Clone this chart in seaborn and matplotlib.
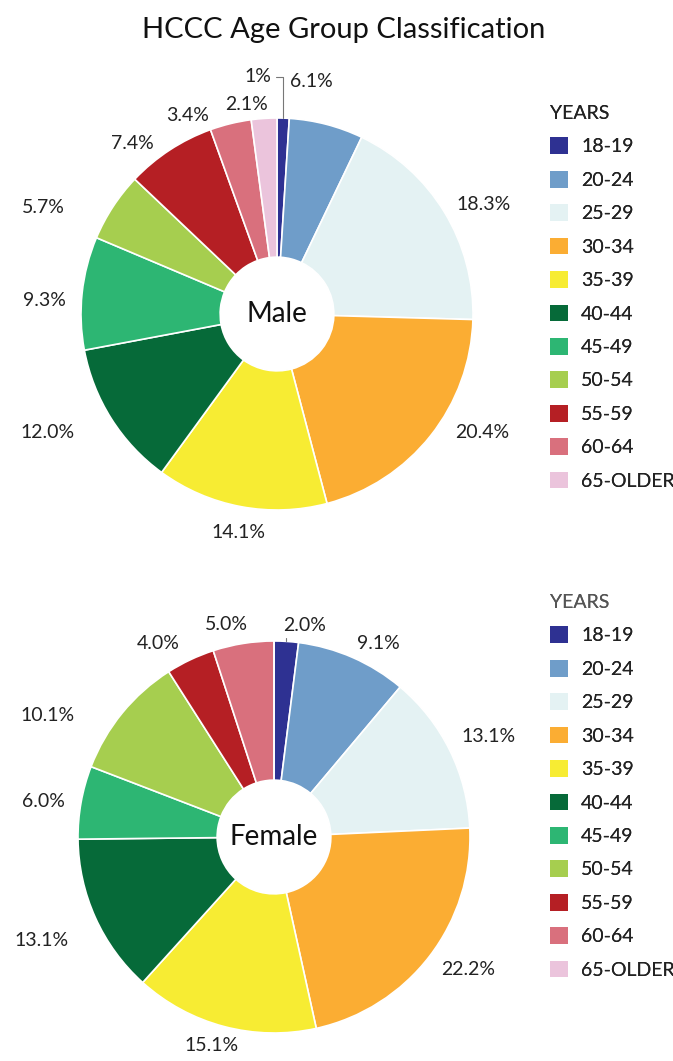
import numpy as np
import matplotlib
matplotlib.use("Agg")
import matplotlib.pyplot as plt
from matplotlib.patches import Patch
import seaborn as sns

sns.set_theme(style="white")
plt.rcParams['font.family'] = ['Lato', 'DejaVu Sans']

# ---- data ----
age_groups = ["18-19", "20-24", "25-29", "30-34", "35-39", "40-44",
              "45-49", "50-54", "55-59", "60-64", "65-OLDER"]
male_pct = [1.0, 6.1, 18.3, 20.4, 14.1, 12.0, 9.3, 5.7, 7.4, 3.4, 2.1]
female_pct = [2.0, 9.1, 13.1, 22.2, 15.1, 13.1, 6.0, 10.1, 4.0, 5.0, 0.0]
male_labels = ["1%", "6.1%", "18.3%", "20.4%", "14.1%", "12.0%", "9.3%",
               "5.7%", "7.4%", "3.4%", "2.1%"]
female_labels = ["2.0%", "9.1%", "13.1%", "22.2%", "15.1%", "13.1%", "6.0%",
                 "10.1%", "4.0%", "5.0%", ""]
colors = ["#2e3192", "#6f9dc9", "#e4f2f3", "#fbad33", "#f7ec33", "#066a39",
          "#2db673", "#a6ce4f", "#b51f24", "#d9707d", "#ebc4dc"]
title = "HCCC Age Group Classification"

# label placement style: (radial factor, angular nudge in degrees, clockwise)
male_label_style = [None, (1.20, -6.3), (1.19, 3.5), (1.21, -8.3), (1.13, -0.7),
                    (1.32, 5.0), (1.19, -2.9), (1.31, -8.7), (1.14, -7.0),
                    (1.11, -10.6), (1.08, -4.5)]
female_label_style = [None, (1.12, 4.7), (1.21, 1.3), (1.20, -3.3), (1.11, 1.8),
                      (1.30, 0.2), (1.19, -1.5), (1.31, -11.1), (1.15, -5.5),
                      (1.11, -3.7), None]

W, H = 673, 1061
fig = plt.figure(figsize=(W / 100, H / 100), dpi=100)
fig.patch.set_facecolor("white")

R = 196


def make_ax(cx, cy):
    return fig.add_axes([(cx - R) / W, (H - cy - R) / H, 2 * R / W, 2 * R / H])


def draw_pie(ax, vals, labels, styles, center_text, leader_xytext):
    vals = np.array(vals, dtype=float)
    ax.pie(vals, colors=colors, startangle=90, counterclock=False, radius=1,
           wedgeprops=dict(width=0.71, edgecolor="white", linewidth=1.2))
    ax.set_xlim(-1, 1)
    ax.set_ylim(-1, 1)
    ax.set_aspect("equal")
    ax.axis("off")
    frac = vals / vals.sum()
    cum = np.cumsum(frac) - frac / 2
    for i, (f, m, lab) in enumerate(zip(frac, cum, labels)):
        if f <= 0 or not lab:
            continue
        if i == 0:
            ang = np.deg2rad(90 - 360 * m)
            x0, y0 = np.cos(ang), np.sin(ang)
            tx, ty, ha = leader_xytext
            ax.annotate(lab, xy=(x0, y0), xytext=(tx, ty), ha=ha, va="center",
                        fontsize=14, color="#222222", annotation_clip=False,
                        arrowprops=dict(arrowstyle="-", color="#777777", lw=0.8,
                                        shrinkA=1, shrinkB=0,
                                        connectionstyle="angle,angleA=0,angleB=90,rad=0"))
            continue
        d, nudge = styles[i]
        ang = np.deg2rad(90 - 360 * m - nudge)
        ax.text(d * np.cos(ang), d * np.sin(ang), lab, ha="center", va="center",
                fontsize=14, color="#222222", clip_on=False)
    ax.text(0, 0, center_text, ha="center", va="center", fontsize=20,
            color="#111111")


ax_m = make_ax(277, 314)
draw_pie(ax_m, male_pct, male_labels, male_label_style, "Male",
         (-0.03, 1.21, "right"))
ax_f = make_ax(274, 837)
draw_pie(ax_f, female_pct, female_labels, female_label_style, "Female",
         (0.045, 1.08, "left"))

fig.text(0.51, 1 - 30 / H, title, ha="center", va="center", fontsize=21,
         color="#111111")

handles = [Patch(facecolor=c, edgecolor="none") for c in colors]
for top_px, tcol in [(105, "#222222"), (594, "#555555")]:
    leg = fig.legend(handles, age_groups, loc="upper left",
                     bbox_to_anchor=(550 / W, 1 - top_px / H),
                     frameon=False, fontsize=14, title="YEARS",
                     title_fontsize=14, alignment="left",
                     handlelength=0.95, handleheight=0.95, handletextpad=0.65,
                     labelspacing=0.79, borderpad=0, borderaxespad=0)
    leg.get_title().set_color(tcol)
    for t in leg.get_texts():
        t.set_color("#222222")
    fig.add_artist(leg)

fig.savefig("out.png", dpi=100, facecolor="white")
